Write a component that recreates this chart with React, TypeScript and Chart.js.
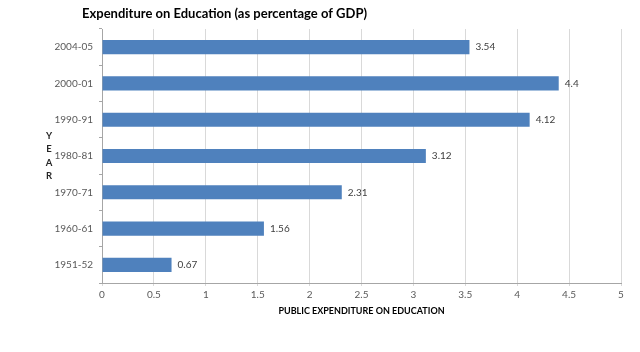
import React, { useEffect, useRef } from "react";
import { Chart, registerables } from "chart.js";

Chart.register(...registerables);

const chartTitle = "Expenditure on Education (as percentage of GDP)";
const yAxisTitle = ["Y", "E", "A", "R"];
const xAxisTitle = "PUBLIC EXPENDITURE ON EDUCATION";
const years = ["1951-52", "1960-61", "1970-71", "1980-81", "1990-91", "2000-01", "2004-05"];
const expenditure = [0.67, 1.56, 2.31, 3.12, 4.12, 4.4, 3.54];
const xMin = 0;
const xMax = 5;
const xStep = 0.5;

const FONT = "Lato, 'Open Sans', sans-serif";

const textPlugin = {
  id: "customText",
  afterDatasetsDraw(chart: any) {
    const ctx = chart.ctx;
    ctx.save();
    // data labels
    const meta = chart.getDatasetMeta(0);
    ctx.font = `10px ${FONT}`;
    ctx.fillStyle = "#404040";
    ctx.textAlign = "left";
    ctx.textBaseline = "middle";
    meta.data.forEach((bar: any, i: number) => {
      ctx.fillText(String(expenditure[i]), bar.x + 6, bar.y);
    });
    // chart title
    ctx.font = `bold 13px ${FONT}`;
    ctx.fillStyle = "#000000";
    ctx.fillText(chartTitle, 82, 14);
    // y axis title (stacked letters)
    ctx.font = `bold 9.5px ${FONT}`;
    ctx.fillStyle = "#262626";
    ctx.textAlign = "center";
    const cy = (chart.chartArea.top + chart.chartArea.bottom) / 2;
    const gap = 13.5;
    const start = cy - (gap * (yAxisTitle.length - 1)) / 2;
    yAxisTitle.forEach((ch, i) => ctx.fillText(ch, 49, start + i * gap));
    ctx.restore();
  },
};

export default function App() {
  const ref = useRef<HTMLCanvasElement>(null);
  useEffect(() => {
    document.body.style.margin = "0";
    const chart = new Chart(ref.current!, {
      type: "bar",
      data: {
        labels: years,
        datasets: [
          {
            data: expenditure,
            backgroundColor: "#4f81bd",
            borderWidth: 0,
            barPercentage: 0.39,
            categoryPercentage: 1,
          },
        ],
      },
      options: {
        indexAxis: "y",
        animation: false,
        responsive: false,
        maintainAspectRatio: false,
        layout: { padding: { top: 29, right: 19, bottom: 36, left: 0 } },
        plugins: { legend: { display: false }, tooltip: { enabled: false }, title: { display: false } },
        scales: {
          x: {
            min: xMin,
            max: xMax,
            ticks: {
              stepSize: xStep,
              color: "#595959",
              font: { family: FONT, size: 10 },
              padding: 3,
              maxRotation: 0,
              callback: (v: any) => String(Number(v)),
            },
            grid: { color: "#d9d9d9", tickLength: 3, drawTicks: true },
            border: { color: "#a6a6a6" },
            title: { display: true, text: xAxisTitle, color: "#000000", font: { family: FONT, size: 9, weight: "bold" }, padding: 0 },
            afterFit(scale: any) {
              scale.height = 33;
            },
          },
          y: {
            reverse: true,
            ticks: { color: "#595959", font: { family: FONT, size: 10 }, padding: 6 },
            grid: { drawOnChartArea: false, drawTicks: true, tickLength: 3, color: "#a6a6a6" },
            border: { color: "#a6a6a6" },
            afterFit(scale: any) {
              scale.width = 102;
            },
          },
        },
      },
      plugins: [textPlugin],
    } as any);
    return () => chart.destroy();
  }, []);
  return (
    <div style={{ width: 640, height: 352, background: "#ffffff" }}>
      <canvas ref={ref} width={640} height={352} />
    </div>
  );
}
